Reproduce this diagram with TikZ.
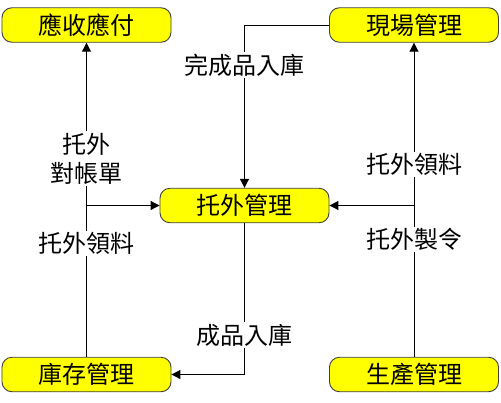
\documentclass[tikz,border=0pt]{standalone}
\usepackage{fontspec}
\newfontfamily\cjk{Noto Sans CJK TC}
\usetikzlibrary{arrows.meta}
\definecolor{boxyellow}{RGB}{255,255,0}
\definecolor{boxedge}{RGB}{64,64,64}
\tikzset{
  sysbox/.style={draw=boxedge, line width=0.9pt, fill=boxyellow, rounded corners=10pt,
    minimum width=169pt, minimum height=34.5pt, inner sep=0pt,
    font=\cjk\fontsize{24}{29}\selectfont},
  flow/.style={line width=1pt, draw=black, -{Triangle[length=9pt,width=9pt]}},
  lbl/.style={fill=white, inner sep=1.5pt, align=center,
    font=\cjk\fontsize{24}{29}\selectfont}
}
\begin{document}
\begin{tikzpicture}[x=1pt,y=-1pt]
\useasboundingbox[fill=white] (0,0) rectangle (501,402);
\node[sysbox] (A) at (86.5,25) {應收應付};
\node[sysbox] (B) at (414,25) {現場管理};
\node[sysbox] (C) at (244.5,205.5) {托外管理};
\node[sysbox] (D) at (86.5,374.5) {庫存管理};
\node[sysbox] (E) at (414,374.5) {生產管理};

\draw[flow] (D.north) -- (A.south);
\draw[flow] (D.north) |- (C.west);
\draw[flow] (E.north) -- (B.south);
\draw[flow] (E.north) |- (C.east);
\draw[flow] (B.west) -| (C.north);
\draw[flow] (C.south) |- (D.east);

\node[lbl] (l1) at (244.5,65) {完成品入庫};
\node[lbl] (l2) at (86.5,158.5) {托外\\對帳單};
\node[lbl] (l3) at (86.5,243.5) {托外領料};
\node[lbl] (l4) at (414,164.5) {托外領料};
\node[lbl] (l5) at (414,239.5) {托外製令};
\node[lbl] (l6) at (244.5,335) {成品入庫};
\end{tikzpicture}
\end{document}
